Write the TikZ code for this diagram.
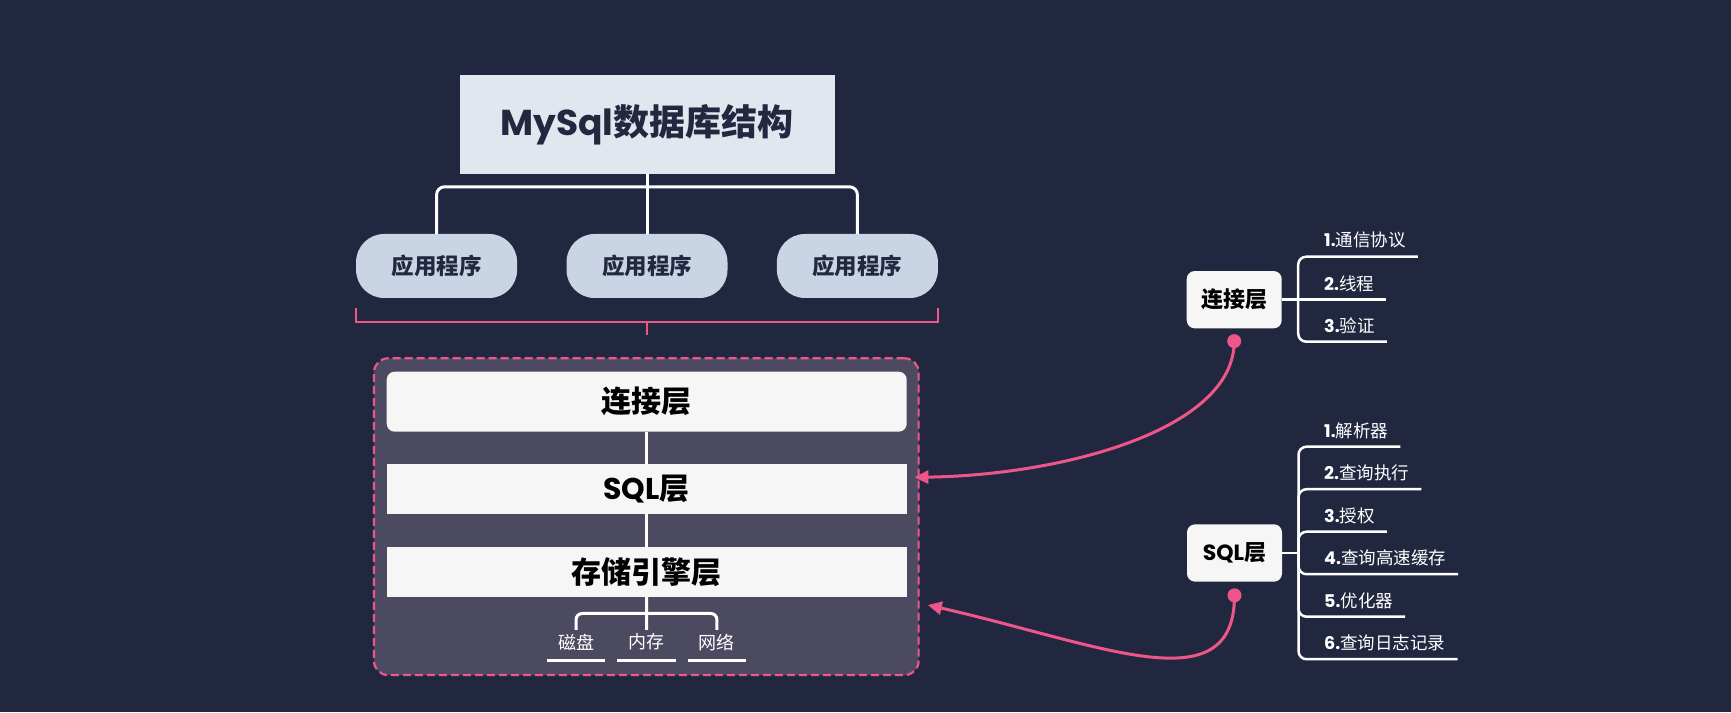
\documentclass[tikz,border=0pt]{standalone}
\usepackage{fontspec}
\setmainfont{Poppins}
\newfontfamily\zh{Noto Sans CJK SC}
\usetikzlibrary{arrows.meta,shapes,positioning,calc}
\definecolor{night}{HTML}{222740}
\definecolor{mist}{HTML}{E1E6EF}
\definecolor{ink}{HTML}{232841}
\definecolor{haze}{HTML}{C9D4E5}
\definecolor{rose}{HTML}{EE5689}
\definecolor{dusk}{HTML}{4C4A61}
\definecolor{paper}{HTML}{F6F6F6}
\tikzset{
	head/.style={
		rectangle,
		fill=mist,
		text=ink,
		inner sep=2pt,
		minimum width=375pt,
		minimum height=99pt,
		font=\fontsize{36pt}{40pt}\selectfont\bfseries,
	},
	app/.style={
		rectangle,
		rounded corners=28pt,
		fill=haze,
		text=ink,
		inner sep=2pt,
		minimum width=161pt,
		minimum height=64pt,
		font=\fontsize{22.5pt}{26pt}\selectfont\bfseries,
	},
	frame/.style={
		rectangle,
		rounded corners=14pt,
		draw=rose,
		fill=dusk,
		line width=2.2pt,
		dash pattern=on 8pt off 4pt,
		minimum width=544.6pt,
		minimum height=316.7pt,
	},
	layer/.style={
		rectangle,
		fill=paper,
		text=black,
		inner sep=2pt,
		minimum width=520pt,
		minimum height=49.3pt,
		font=\fontsize{30pt}{34pt}\selectfont\bfseries,
	},
	leaf/.style={
		text=white,
		inner sep=0pt,
		text depth=8pt,
		minimum width=58pt,
		minimum height=30.7pt,
		font=\fontsize{18pt}{20pt}\selectfont,
	},
	card/.style={
		rectangle,
		rounded corners=8pt,
		fill=paper,
		text=black,
		inner sep=2pt,
		minimum width=95pt,
		minimum height=57.3pt,
		font=\fontsize{22pt}{26pt}\selectfont\bfseries,
	},
	item/.style={
		anchor=south west,
		text=white,
		inner xsep=12pt,
		inner ysep=8pt,
		font=\fontsize{17.5pt}{20pt}\selectfont,
	},
	dot/.style={
		circle,
		fill=rose,
		inner sep=0pt,
		minimum size=14pt,
	},
	branch/.style={
		draw=white,
		line width=3pt,
		rounded corners=8pt,
	},
	uline/.style={
		draw=white,
		line width=3pt,
	},
	brace/.style={
		draw=rose,
		line width=2.5pt,
	},
	link/.style={
		draw=rose,
		line width=3pt,
		->,
	},
}
\begin{document}
\begin{tikzpicture}[x=1pt,y=1pt,>={Triangle[length=14pt,width=13pt]}]
	\fill[night] (0,0) rectangle (1731,712);
	\useasboundingbox (0,0) rectangle (1731,712);

	\node [head] (title) at (647,587.3) {MySql{\zh 数据库结构}};
	\node [app] (app2) at (647,446) {\zh 应用程序};
	\node [app] (app1) [left=49pt of app2] {\zh 应用程序};
	\node [app] (app3) [right=49pt of app2] {\zh 应用程序};
	\coordinate[below=12.4pt of title] (below-title);

	\draw[branch] (title) -- (app2);
	\draw[branch] (below-title) -| (app1);
	\draw[branch] (below-title) -| (app3);

	\coordinate (brace-left) at ([yshift=-10.3pt]app1.south west);
	\coordinate (brace-right) at ([yshift=-10.3pt]app3.south east);
	\draw[brace] (brace-left) -- ++(0,-13.4) -| (brace-right);
	\draw[brace] ($(brace-left)!0.5!(brace-right)+(0,-13.4)$) -- ++(0,-13.4);

	\node [frame] (frame) at (646.3,195.3) {};
	\node [layer,rounded corners=8pt,minimum height=60pt] (conn) at (646.7,310.3) {\zh 连接层};
	\node [layer] (sql) [below=32.4pt of conn] {SQL{\zh 层}};
	\node [layer] (store) [below=33.3pt of sql] {\zh 存储引擎层};
	\draw[branch] (conn) -- (sql);
	\draw[branch] (sql) -- (store);

	\node [leaf] (mem) at (646.5,66.6) {\zh 内存};
	\node [leaf] (disk) [left=12pt of mem] {\zh 磁盘};
	\node [leaf] (net) [right=12pt of mem] {\zh 网络};
	\coordinate[below=16.5pt of store] (below-store);
	\draw[branch,rounded corners=6pt] (store) -- (mem);
	\draw[branch,rounded corners=6pt] (below-store) -| (disk);
	\draw[branch,rounded corners=6pt] (below-store) -| (net);
	\draw[uline] (disk.south west) -- (disk.south east);
	\draw[uline] (mem.south west) -- (mem.south east);
	\draw[uline] (net.south west) -- (net.south east);

	\node [card] (conn-card) at (1234.2,412.3) {\zh 连接层};
	\coordinate[right=16.3pt of conn-card] (conn-root);
	\node [item] (conn-1) at (1312,455.3) {\textbf{1.}{\zh 通信协议}};
	\node [item] (conn-2) at (1312,412.3) {\textbf{2.}{\zh 线程}};
	\node [item] (conn-3) at (1312,370.3) {\textbf{3.}{\zh 验证}};
	\draw[branch,line width=2.5pt] (conn-card) -- (conn-root);
	\draw[branch,line width=2.5pt] (conn-root) |- (conn-1.south east);
	\draw[branch,line width=2.5pt] (conn-root) -- (conn-2.south east);
	\draw[branch,line width=2.5pt] (conn-root) |- (conn-3.south east);

	\node [card] (sql-card) at (1234.5,159) {SQL{\zh 层}};
	\coordinate[right=16.3pt of sql-card] (sql-root);
	\node [item] (sql-1) at (1312,265.3) {\textbf{1.}{\zh 解析器}};
	\node [item] (sql-2) at (1312,222.8) {\textbf{2.}{\zh 查询执行}};
	\node [item] (sql-3) at (1312,180.3) {\textbf{3.}{\zh 授权}};
	\node [item] (sql-4) at (1312,137.8) {\textbf{4.}{\zh 查询高速缓存}};
	\node [item] (sql-5) at (1312,95.3) {\textbf{5.}{\zh 优化器}};
	\node [item] (sql-6) at (1312,52.8) {\textbf{6.}{\zh 查询日志记录}};
	\draw[branch,line width=2.5pt] (sql-card) -- (sql-root);
	\draw[branch,line width=2.5pt] (sql-root) |- (sql-1.south east);
	\draw[branch,line width=2.5pt] (sql-root) |- (sql-2.south east);
	\draw[branch,line width=2.5pt] (sql-root) |- (sql-3.south east);
	\draw[branch,line width=2.5pt] (sql-root) |- (sql-4.south east);
	\draw[branch,line width=2.5pt] (sql-root) |- (sql-5.south east);
	\draw[branch,line width=2.5pt] (sql-root) |- (sql-6.south east);

	\node [dot] (conn-dot) [below=5.4pt of conn-card] {};
	\node [dot] (sql-dot) [below=6.3pt of sql-card] {};
	\coordinate (conn-tip) at ([xshift=-5.3pt,yshift=39.4pt]frame.east);
	\coordinate (sql-tip) at ([xshift=8.1pt,yshift=-88.3pt]frame.east);
	\draw[link] (conn-dot.center) .. controls +(0,-89) and +(147,2) .. (conn-tip);
	\draw[link] (sql-dot.center) .. controls +(0,-110) and +(175,-40) .. (sql-tip);
\end{tikzpicture}
\end{document}
